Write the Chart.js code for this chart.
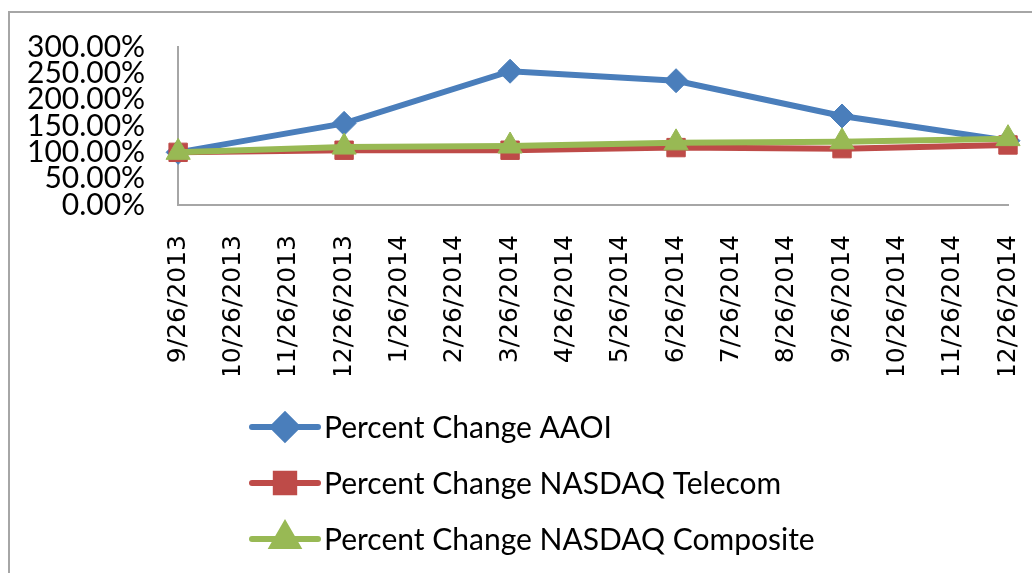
<!DOCTYPE html>
<html>
<head>
<meta charset="utf-8">
<script src="https://cdn.jsdelivr.net/npm/chart.js@4/dist/chart.umd.min.js"></script>
<style>
  body { margin: 0; background: #fff; }
  #wrap { position: relative; width: 1032px; height: 573px; overflow: hidden; }
  #frame { position: absolute; left: 8px; top: 11px; width: 1040px; height: 600px;
           border-left: 2px solid #a6a6a6; border-top: 2px solid #a6a6a6; }
  canvas { position: absolute; left: 0; top: 0; }
</style>
</head>
<body>
<div id="wrap">
  <div id="frame"></div>
  <canvas id="myChart" width="1032" height="573"></canvas>
</div>
<script>
// x axis tick labels (monthly), only quarterly dates carry values
const dates = [
  "9/26/2013", "10/26/2013", "11/26/2013", "12/26/2013",
  "1/26/2014", "2/26/2014", "3/26/2014", "4/26/2014",
  "5/26/2014", "6/26/2014", "7/26/2014", "8/26/2014",
  "9/26/2014", "10/26/2014", "11/26/2014", "12/26/2014"
];
const aaoi      = [100, null, null, 155, null, null, 254, null, null, 236, null, null, 169, null, null, 122];
const telecom   = [100, null, null, 104, null, null, 104, null, null, 109, null, null, 107, null, null, 114];
const composite = [100, null, null, 110, null, null, 112, null, null, 118, null, null, 120, null, null, 126];
const seriesNames = [
  "Percent Change AAOI",
  "Percent Change NASDAQ Telecom",
  "Percent Change NASDAQ Composite"
];
const yTicks = [0, 50, 100, 150, 200, 250, 300];

const blue = "#4a7ebb";
const red = "#be4b48";
const green = "#98b954";

// legend drawn one entry per row under the axis labels
const rowLegend = {
  id: "rowLegend",
  afterDraw(chart) {
    const ctx = chart.ctx;
    const rows = [427, 483, 539];
    chart.data.datasets.forEach((ds, i) => {
      const y = rows[i];
      ctx.save();
      ctx.strokeStyle = ds.borderColor;
      ctx.lineWidth = 6;
      ctx.lineCap = "round";
      ctx.beginPath();
      ctx.moveTo(252, y);
      ctx.lineTo(318, y);
      ctx.stroke();
      Chart.helpers.drawPoint(ctx, {
        pointStyle: ds.pointStyle,
        radius: ds.pointRadius,
        borderWidth: 1
      }, 285, y);
      ctx.fillStyle = ds.borderColor;
      ctx.fill();
      ctx.fillStyle = "#000";
      ctx.font = "30px Lato";
      ctx.textBaseline = "middle";
      ctx.fillText(ds.label, 324, y + 1);
      ctx.restore();
    });
  }
};

let ctx = document.getElementById("myChart");
let myChart = new Chart(ctx, {
  type: "line",
  data: {
    labels: dates,
    datasets: [
      {
        label: seriesNames[0],
        data: aaoi,
        borderColor: blue,
        backgroundColor: blue,
        pointStyle: "rectRot",
        pointRadius: 12,
        order: 3
      },
      {
        label: seriesNames[1],
        data: telecom,
        borderColor: red,
        backgroundColor: red,
        pointStyle: "rect",
        pointRadius: 13,
        order: 2
      },
      {
        label: seriesNames[2],
        data: composite,
        borderColor: green,
        backgroundColor: green,
        pointStyle: "triangle",
        pointRadius: 14,
        order: 1
      }
    ]
  },
  options: {
    responsive: false,
    animation: false,
    spanGaps: true,
    elements: {
      line: { borderWidth: 6, tension: 0 },
      point: { borderWidth: 1 }
    },
    layout: { padding: { left: 2, right: 0, top: 47, bottom: 198 } },
    plugins: {
      legend: { display: false },
      tooltip: { enabled: false }
    },
    scales: {
      x: {
        offset: false,
        afterFit(scale) {
          scale.paddingRight = 24;
          scale.height = 170;
        },
        grid: { display: false },
        border: { display: true, color: "#a6a6a6", width: 2 },
        ticks: {
          autoSkip: false,
          maxRotation: 90,
          minRotation: 90,
          padding: 22,
          color: "#000",
          font: { family: "'DejaVu Sans'", size: 25 }
        }
      },
      y: {
        min: 0,
        max: 300,
        afterBuildTicks(scale) {
          scale.ticks = yTicks.map(v => ({ value: v }));
        },
        grid: { display: false },
        border: { display: true, color: "#a6a6a6", width: 2 },
        ticks: {
          autoSkip: false,
          padding: 25,
          color: "#000",
          font: { family: "Lato", size: 30 },
          callback: v => v.toFixed(2) + "%"
        }
      }
    }
  },
  plugins: [rowLegend]
});
</script>
</body>
</html>
